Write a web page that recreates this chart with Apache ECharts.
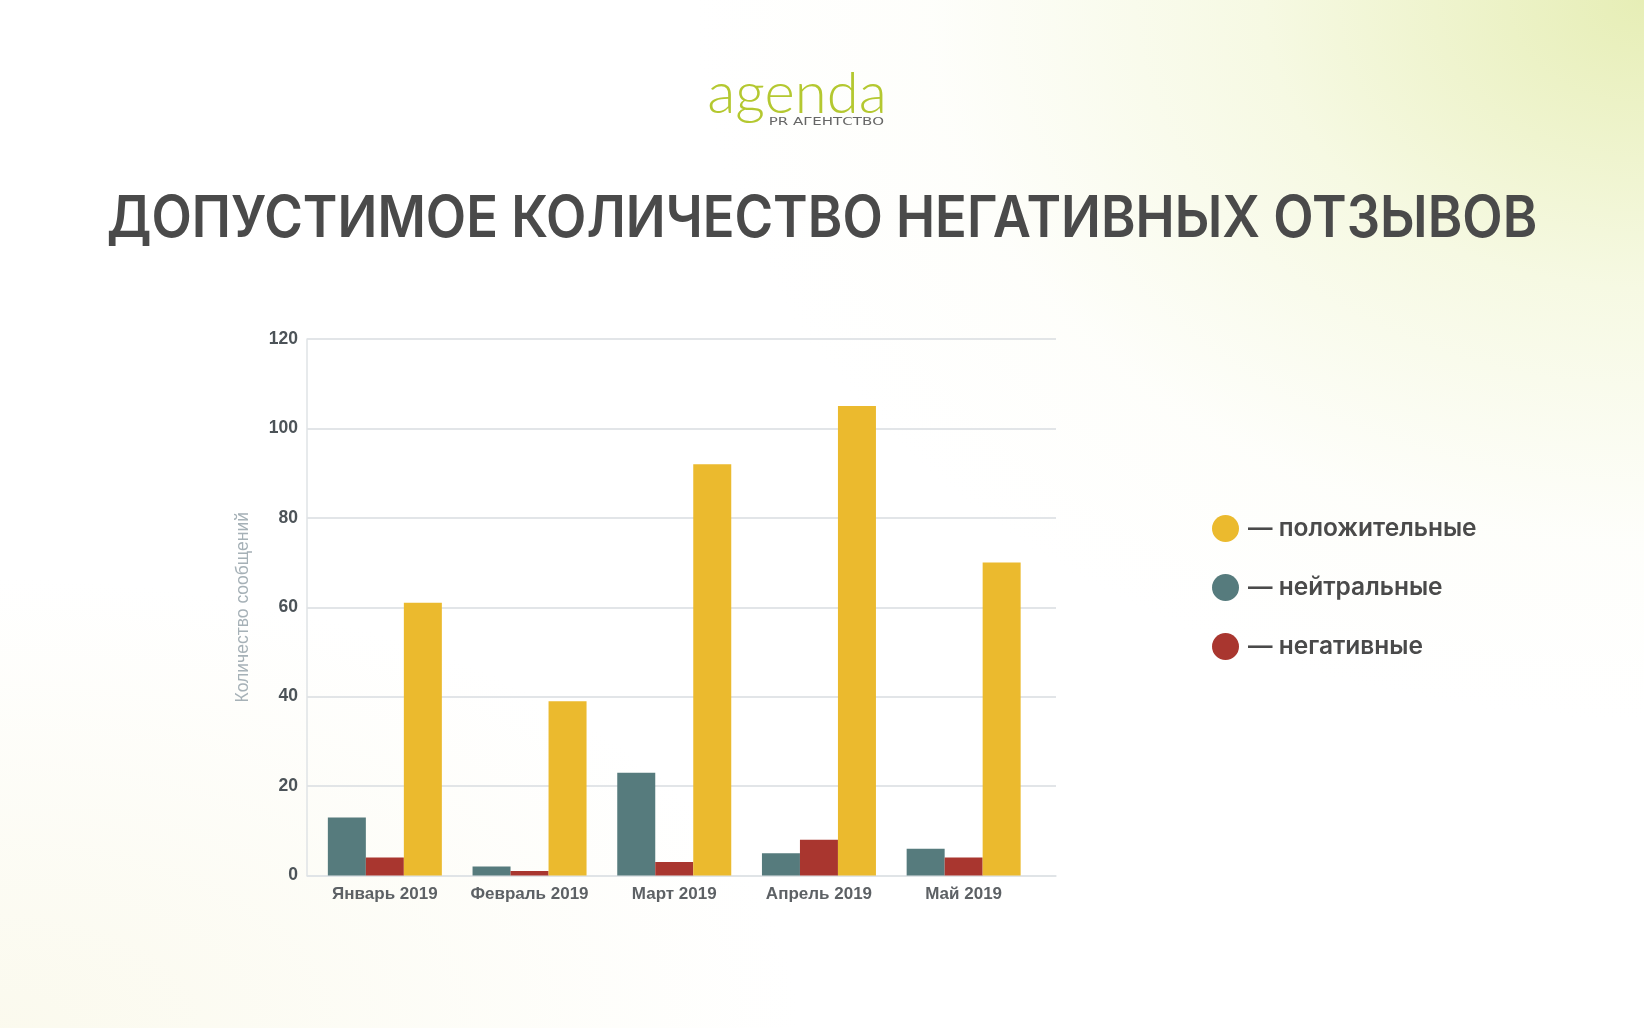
<!DOCTYPE html>
<html>
<head>
<meta charset="utf-8">
<script src="https://cdn.jsdelivr.net/npm/echarts@6/dist/echarts.min.js"></script>
<style>
html,body{margin:0;padding:0;width:1644px;height:1028px;overflow:hidden;}
body{background:
 radial-gradient(ellipse 950px 720px at 100% 0%, rgba(229,237,178,0.95) 0%, rgba(240,245,208,0.6) 40%, rgba(250,251,238,0.25) 75%, rgba(255,255,255,0) 100%),
 radial-gradient(ellipse 800px 450px at 0% 100%, rgba(248,246,226,0.6) 0%, rgba(255,255,255,0) 100%),
 #ffffff;}
#chart{width:1644px;height:1028px;}
</style>
</head>
<body>
<div id="chart"></div>
<script>
const categories = ['Январь 2019', 'Февраль 2019', 'Март 2019', 'Апрель 2019', 'Май 2019'];
const neutral = [13, 2, 23, 5, 6];
const negative = [4, 1, 3, 8, 4];
const positive = [61, 39, 92, 105, 70];
const seriesNames = ['нейтральные', 'негативные', 'положительные'];
const legendOrder = ['положительные', 'нейтральные', 'негативные'];
const yTicks = [0, 20, 40, 60, 80, 100, 120];
const titleText = 'ДОПУСТИМОЕ КОЛИЧЕСТВО НЕГАТИВНЫХ ОТЗЫВОВ';
const yAxisName = 'Количество сообщений';
const logoText = 'agenda';
const logoSub = 'PR АГЕНТСТВО';

const colors = {neutral: '#567b7d', negative: '#a9362f', positive: '#ebba2e'};
const labelFont = '"Liberation Sans", Arial, sans-serif';

const chart = echarts.init(document.getElementById('chart'));
chart.setOption({
  backgroundColor: 'transparent',
  animation: false,
  graphic: [
    {type: 'text', x: 822, y: 220, scaleY: 1.1,
      style: {text: titleText, font: '600 52.5px Inter, "Noto Sans", sans-serif', fill: '#4a4a4a', textAlign: 'center', textVerticalAlign: 'middle'}},
    {type: 'text', x: 797, y: 94,
      style: {text: logoText, font: '300 58px Lato, "Open Sans", sans-serif', fill: '#b4c830', textAlign: 'center', textVerticalAlign: 'middle'}},
    {type: 'text', x: 884, y: 127, scaleX: 1.5,
      style: {text: logoSub, font: '400 10px "DejaVu Sans", sans-serif', fill: '#666666', textAlign: 'right', textVerticalAlign: 'bottom'}}
  ],
  grid: [
    {left: 307, right: 588, top: 339, bottom: 152.5, containLabel: false},
    {left: 312.5, right: 608, top: 339, bottom: 152.5, containLabel: false}
  ],
  legend: {
    orient: 'vertical', left: 1207, top: 510,
    data: legendOrder,
    icon: 'circle', itemWidth: 27, itemHeight: 27, itemGap: 32,
    formatter: n => '— ' + n,
    textStyle: {fontFamily: 'Inter, "Noto Sans", sans-serif', fontWeight: 600, fontSize: 24.5, color: '#4a4a4a', padding: [0, 0, 0, 4]}
  },
  xAxis: [
    {type: 'value', gridIndex: 0, min: 0, max: 1,
      axisLine: {show: true, lineStyle: {color: '#dfe3e6', width: 1.5}},
      axisTick: {show: false}, axisLabel: {show: false}, splitLine: {show: false}},
    {type: 'category', gridIndex: 1, data: categories,
      axisLine: {show: false}, axisTick: {show: false},
      axisLabel: {interval: 0, hideOverlap: false, color: '#5d6165', fontFamily: labelFont, fontWeight: 'bold', fontSize: 17, margin: 10}}
  ],
  yAxis: [
    {type: 'value', gridIndex: 0, min: 0, max: 120, interval: 20,
      name: yAxisName, nameLocation: 'middle', nameGap: 55, nameRotate: 90,
      nameTextStyle: {color: '#a6b1b7', fontFamily: labelFont, fontSize: 17.5},
      axisLine: {show: true, lineStyle: {color: '#dfe3e6', width: 1.5}},
      axisTick: {show: false},
      splitLine: {lineStyle: {color: '#d9dde1', width: 1.5}},
      axisLabel: {color: '#4c5358', fontFamily: labelFont, fontWeight: 'bold', fontSize: 17.5, margin: 9,
        formatter: v => yTicks.includes(v) ? String(v) : ''}},
    {type: 'value', gridIndex: 1, min: 0, max: 120, interval: 20, show: false}
  ],
  series: [
    {name: seriesNames[0], type: 'bar', xAxisIndex: 1, yAxisIndex: 1, data: neutral, barWidth: 38, barGap: '0%', itemStyle: {color: colors.neutral}},
    {name: seriesNames[1], type: 'bar', xAxisIndex: 1, yAxisIndex: 1, data: negative, barWidth: 38, barGap: '0%', itemStyle: {color: colors.negative}},
    {name: seriesNames[2], type: 'bar', xAxisIndex: 1, yAxisIndex: 1, data: positive, barWidth: 38, barGap: '0%', itemStyle: {color: colors.positive}}
  ]
});
</script>
</body>
</html>
